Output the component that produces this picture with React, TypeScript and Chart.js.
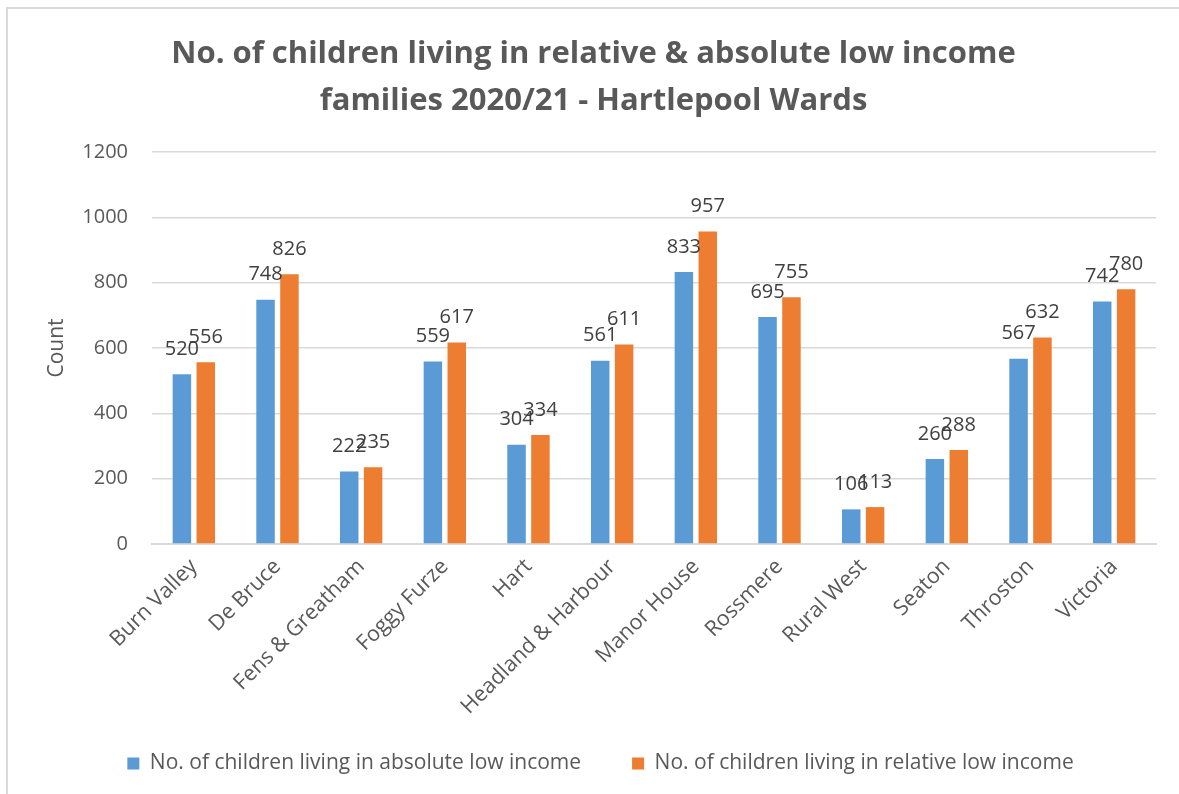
import React, { useEffect, useRef } from "react";
import { Chart, registerables } from "chart.js";

Chart.register(...registerables);

const titleLines = [
  "No. of children living in relative & absolute low income",
  "families 2020/21 - Hartlepool Wards",
];
const categories = [
  "Burn Valley",
  "De Bruce",
  "Fens & Greatham",
  "Foggy Furze",
  "Hart",
  "Headland & Harbour",
  "Manor House",
  "Rossmere",
  "Rural West",
  "Seaton",
  "Throston",
  "Victoria",
];
const absoluteLabel = "No. of children living in absolute low income";
const relativeLabel = "No. of children living in relative low income";
const absoluteValues = [520, 748, 222, 559, 304, 561, 833, 695, 106, 260, 567, 742];
const relativeValues = [556, 826, 235, 617, 334, 611, 957, 755, 113, 288, 632, 780];
const yTitle = "Count";

const FONT = '"Open Sans", "Noto Sans", sans-serif';

const dataLabels = {
  id: "dataLabels",
  afterDatasetsDraw(chart: any) {
    const ctx = chart.ctx;
    ctx.save();
    ctx.font = `20px ${FONT}`;
    ctx.fillStyle = "#404040";
    ctx.textAlign = "center";
    ctx.textBaseline = "middle";
    chart.data.datasets.forEach((ds: any, di: number) => {
      const meta = chart.getDatasetMeta(di);
      meta.data.forEach((bar: any, i: number) => {
        ctx.fillText(String(ds.data[i]), bar.x, bar.y - 25);
      });
    });
    ctx.restore();
  },
};

const legendShift = {
  id: "legendShift",
  afterLayout(chart: any) {
    if (chart.legend) {
      chart.legend.left += 7;
      chart.legend.right += 7;
    }
  },
};

export default function App() {
  const ref = useRef<HTMLCanvasElement | null>(null);
  useEffect(() => {
    if (!ref.current) return;
    const chart = new Chart(ref.current, {
      type: "bar",
      data: {
        labels: categories,
        datasets: [
          {
            label: absoluteLabel,
            data: absoluteValues,
            backgroundColor: "#5b9bd5",
            categoryPercentage: 0.571,
            barPercentage: 0.774,
          },
          {
            label: relativeLabel,
            data: relativeValues,
            backgroundColor: "#ed7d31",
            categoryPercentage: 0.571,
            barPercentage: 0.774,
          },
        ],
      },
      options: {
        responsive: false,
        animation: false,
        devicePixelRatio: 1,
        layout: { padding: { left: 0, right: 0, top: 12, bottom: 10 } },
        plugins: {
          title: {
            display: true,
            text: titleLines,
            color: "#595959",
            font: { family: FONT, size: 31, weight: "bold", lineHeight: 1.5 },
            padding: { top: 10, bottom: 28 },
          },
          legend: {
            position: "bottom",
            labels: {
              color: "#595959",
              font: { family: FONT, size: 21 },
              boxWidth: 12,
              boxHeight: 12,
              padding: 51,
            },
          },
          tooltip: { enabled: false },
        },
        scales: {
          x: {
            grid: { display: false, drawTicks: false },
            border: { display: true, color: "#d9d9d9", width: 2 },
            ticks: {
              color: "#595959",
              font: { family: FONT, size: 21.5 },
              minRotation: 45,
              maxRotation: 45,
              autoSkip: false,
              padding: 10,
            },
            afterFit(scale: any) {
              scale.height = 158;
              scale._computeLabelArea = () => undefined;
            },
          },
          y: {
            min: 0,
            max: 1200,
            grid: { color: "#d9d9d9", lineWidth: 1.5, drawTicks: false },
            border: { display: false },
            ticks: {
              stepSize: 200,
              color: "#595959",
              font: { family: FONT, size: 20 },
              padding: 24,
              callback: (v: any) => String(v),
            },
            title: {
              display: true,
              text: yTitle,
              color: "#595959",
              font: { family: FONT, size: 21 },
              padding: { top: 36, bottom: 0 },
            },
            afterFit(scale: any) {
              scale.width = 144;
            },
          },
          yRight: {
            position: "right",
            display: true,
            min: 0,
            max: 1200,
            grid: { display: false, drawTicks: false },
            border: { display: false },
            ticks: { display: false },
            afterFit(scale: any) {
              scale.width = 23;
            },
          },
        },
      },
      plugins: [dataLabels, legendShift],
    } as any);
    return () => chart.destroy();
  }, []);

  return (
    <div
      style={{
        position: "fixed",
        left: 6,
        top: 7,
        width: 1173,
        height: 787,
        borderTop: "2px solid #d9d9d9",
        borderLeft: "2px solid #d9d9d9",
        background: "#ffffff",
        overflow: "hidden",
      }}
    >
      <canvas ref={ref} width={1171} height={785} style={{ display: "block" }} />
    </div>
  );
}
